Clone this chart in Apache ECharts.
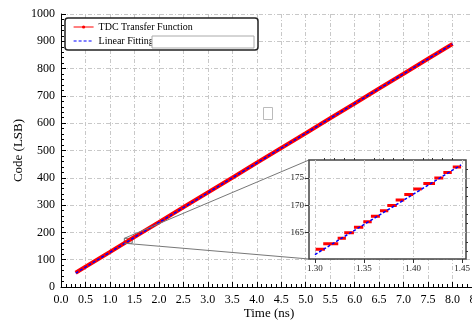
<!DOCTYPE html>
<html><head><meta charset="utf-8">
<script src="https://cdn.jsdelivr.net/npm/echarts@6/dist/echarts.min.js"></script>
<style>html,body{margin:0;padding:0;background:#fff}#c{width:472px;height:320px}</style>
</head><body><div id="c"></div>
<script>
// Main plot data
const tdcTime = [0.3, 0.5, 1.0, 1.5, 2.0, 2.5, 3.0, 3.5, 4.0, 4.5, 5.0, 5.5, 6.0, 6.5, 7.0, 7.5, 8.0];
const tdcCode = [52, 74, 128, 183, 237, 292, 346, 400, 455, 509, 563, 618, 672, 727, 781, 836, 890];
const fitTime = [0.3, 8.0];
const fitCode = [51, 890];
// Inset (zoom) data: code steps
const stepCode  = [162, 163, 164, 165, 166, 167, 168, 169, 170, 171, 172, 173, 174, 175, 176, 177];
const stepStart = [1.3007, 1.3085, 1.3232, 1.3299, 1.3398, 1.3493, 1.3571, 1.3663, 1.3738, 1.3823, 1.3911, 1.4003, 1.4105, 1.4217, 1.4309, 1.4405];
const stepEnd   = [1.3102, 1.3238, 1.3316, 1.3398, 1.3493, 1.3579, 1.3663, 1.3748, 1.3834, 1.3911, 1.4003, 1.4089, 1.4224, 1.4309, 1.4395, 1.4490];
const insetFitTime = [1.300, 1.449];
const insetFitCode = [161.0, 177.4];
// Axes / ticks
const xTickLabels = ['0.0','0.5','1.0','1.5','2.0','2.5','3.0','3.5','4.0','4.5','5.0','5.5','6.0','6.5','7.0','7.5','8.0','8.5'];
const insetXTicks = [1.30, 1.35, 1.40, 1.45];
const insetXMinor = [1.31, 1.32, 1.33, 1.34, 1.36, 1.37, 1.38, 1.39, 1.41, 1.42, 1.43, 1.44];
const insetYTicks = [165, 170, 175];
const insetYMinor = [161.67, 163.33, 166.67, 168.33, 171.67, 173.33, 176.67];
const insetXRange = [1.294, 1.454];
const insetYRange = [160.2, 178.3];

const FONT = 'Liberation Serif';
const gridDash = {color: '#c8c8c8', type: [4, 2, 1, 2], width: 1};

const chart = echarts.init(document.getElementById('c'), null, {renderer: 'canvas'});

const insetSteps = [];
stepCode.forEach((c, i) => { insetSteps.push([stepStart[i], c], [stepEnd[i], c], '-'); });

chart.setOption({
  animation: false,
  backgroundColor: '#fff',
  grid: [
    {left: 61, top: 14, width: 416, height: 273, containLabel: false, outerBoundsMode: 'none'},
    {left: 309, top: 160, width: 157, height: 99, containLabel: false, outerBoundsMode: 'none', show: true, backgroundColor: '#fff', borderColor: '#444', borderWidth: 1.5, z: 5}
  ],
  legend: {
    data: [
      {name: 'TDC Transfer Function', itemStyle: {color: '#ff0000'}, lineStyle: {width: 1, color: '#ff0000'}},
      {name: 'Linear Fitting', itemStyle: {color: 'rgba(0,0,0,0)', borderWidth: 0}, lineStyle: {width: 1.2, color: '#0000ff', type: [3, 2]}}
    ],
    orient: 'vertical', left: 68, top: 17, itemWidth: 20, itemHeight: 4, itemGap: 4, z: 6,
    textStyle: {fontFamily: FONT, fontSize: 10, color: '#000'}
  },
  xAxis: [
    {type: 'value', gridIndex: 0, min: 0, max: 8.5, interval: 0.5,
     name: 'Time (ns)', nameLocation: 'middle', nameGap: 20, nameMoveOverlap: false,
     nameTextStyle: {fontFamily: FONT, fontSize: 13, color: '#000'},
     axisLine: {lineStyle: {color: '#000'}},
     axisTick: {inside: true, length: 5, lineStyle: {color: '#000'}},
     minorTick: {show: true, splitNumber: 5, length: 3, lineStyle: {color: '#000'}},
     axisLabel: {formatter: (v) => xTickLabels[Math.round(v / 0.5)], fontFamily: FONT, fontSize: 12, color: '#000', margin: 7, hideOverlap: false},
     splitLine: {show: true, lineStyle: gridDash}},
    {type: 'value', gridIndex: 1, min: insetXRange[0], max: insetXRange[1], z: 6,
     axisLine: {show: false},
     axisTick: {show: true, customValues: insetXTicks, length: 4, lineStyle: {color: '#333'}},
     axisLabel: {customValues: insetXTicks, formatter: (v) => v.toFixed(2), fontFamily: FONT, fontSize: 9, color: '#222', margin: 5},
     splitLine: {show: true, lineStyle: gridDash}},
    {type: 'value', gridIndex: 1, min: insetXRange[0], max: insetXRange[1], z: 6,
     axisLine: {show: false}, axisLabel: {show: false}, splitLine: {show: false},
     axisTick: {show: true, customValues: insetXMinor, length: 2, lineStyle: {color: '#333'}}}
  ],
  yAxis: [
    {type: 'value', gridIndex: 0, min: 0, max: 1000, interval: 100,
     name: 'Code (LSB)', nameLocation: 'middle', nameGap: 36, nameMoveOverlap: false,
     nameTextStyle: {fontFamily: FONT, fontSize: 13, color: '#000'},
     axisLine: {show: true, lineStyle: {color: '#000'}},
     axisTick: {show: true, inside: true, length: 5, lineStyle: {color: '#000'}},
     minorTick: {show: true, splitNumber: 5, length: 3, lineStyle: {color: '#000'}},
     axisLabel: {formatter: (v) => String(v), fontFamily: FONT, fontSize: 12, color: '#000', margin: 6},
     splitLine: {show: true, lineStyle: gridDash}},
    {type: 'value', gridIndex: 1, min: insetYRange[0], max: insetYRange[1], z: 6,
     axisLine: {show: false},
     axisTick: {show: true, customValues: insetYTicks, length: 4, lineStyle: {color: '#333'}},
     axisLabel: {customValues: insetYTicks, formatter: (v) => String(v), fontFamily: FONT, fontSize: 9, color: '#222', margin: 5},
     splitLine: {show: true, lineStyle: gridDash}},
    {type: 'value', gridIndex: 1, min: insetYRange[0], max: insetYRange[1], z: 6,
     axisLine: {show: false}, axisLabel: {show: false}, splitLine: {show: false},
     axisTick: {show: true, customValues: insetYMinor, length: 2, lineStyle: {color: '#333'}}}
  ],
  series: [
    {name: 'TDC Transfer Function', type: 'line', xAxisIndex: 0, yAxisIndex: 0,
     data: tdcTime.map((t, i) => [t, tdcCode[i]]),
     symbol: 'circle', symbolSize: 4, showSymbol: false,
     itemStyle: {color: '#ff0000'}, lineStyle: {color: '#ff0000', width: 4}, z: 2,
     markArea: {silent: true, itemStyle: {color: 'rgba(0,0,0,0)', borderColor: '#666', borderWidth: 1},
       data: [[{xAxis: insetXRange[0], yAxis: insetYRange[0]}, {xAxis: insetXRange[1], yAxis: insetYRange[1]}]]}},
    {name: 'Linear Fitting', type: 'line', xAxisIndex: 0, yAxisIndex: 0,
     data: fitTime.map((t, i) => [t, fitCode[i]]),
     symbol: 'none', itemStyle: {color: '#0000ff'}, lineStyle: {color: '#0000ff', width: 1.5, type: [3, 2]}, z: 3},
    {name: 'TDC Transfer Function', type: 'line', xAxisIndex: 1, yAxisIndex: 1,
     data: insetSteps, connectNulls: false, symbol: 'circle', symbolSize: 4, showSymbol: false,
     itemStyle: {color: '#ff0000'}, lineStyle: {color: '#ff0000', width: 3}, z: 10},
    {name: 'Linear Fitting', type: 'line', xAxisIndex: 1, yAxisIndex: 1,
     data: insetFitTime.map((t, i) => [t, insetFitCode[i]]),
     symbol: 'none', itemStyle: {color: '#0000ff'}, lineStyle: {color: '#0000ff', width: 1.5, type: [3, 2]}, z: 11}
  ]
});

// connector lines from the zoom rectangle to the inset
const rTL = chart.convertToPixel({gridIndex: 0}, [insetXRange[0], insetYRange[1]]);
const rBL = chart.convertToPixel({gridIndex: 0}, [insetXRange[0], insetYRange[0]]);
const iTL = chart.convertToPixel({gridIndex: 1}, [insetXRange[0], insetYRange[1]]);
const iBL = chart.convertToPixel({gridIndex: 1}, [insetXRange[0], insetYRange[0]]);

chart.setOption({
  graphic: [
    {type: 'rect', z: 3, shape: {x: 65, y: 18, width: 193, height: 32, r: 3}, style: {fill: '#fff', stroke: '#222', lineWidth: 1.5}},
    {type: 'rect', z: 7, shape: {x: 152, y: 36, width: 102, height: 12}, style: {fill: '#fff', stroke: '#aaa', lineWidth: 1}},
    {type: 'rect', z: 3, shape: {x: 263.5, y: 107.5, width: 9, height: 12}, style: {fill: '#fff', stroke: '#bbb', lineWidth: 1}},
    {type: 'line', z: 4, shape: {x1: rTL[0], y1: rTL[1], x2: iTL[0], y2: iTL[1]}, style: {stroke: '#777', lineWidth: 1}},
    {type: 'line', z: 4, shape: {x1: rBL[0], y1: rBL[1], x2: iBL[0], y2: iBL[1]}, style: {stroke: '#777', lineWidth: 1}}
  ]
});
</script>
</body></html>
